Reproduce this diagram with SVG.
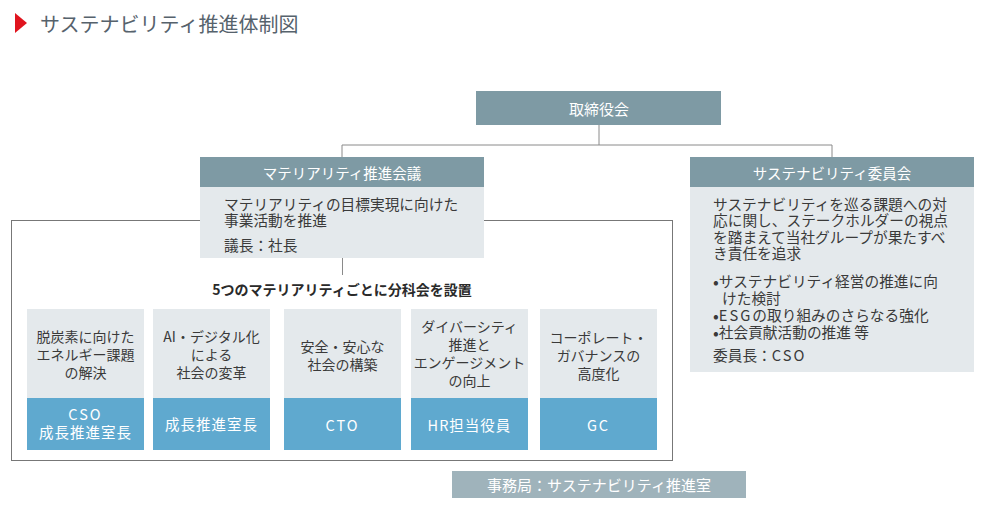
<svg xmlns="http://www.w3.org/2000/svg" width="982" height="507" viewBox="0 0 982 507">
<style>
text{font-family:"Noto Sans CJK JP","Noto Sans",sans-serif;}
.hd{fill:#7e9aa4;}
.bd{fill:#e4e9ec;}
.bl{fill:#5fa9cf;}
.sec{fill:#9fb3bb;}
.wt{fill:#ffffff;font-size:14.5px;text-anchor:middle;dominant-baseline:central;}
.dk{fill:#3a3a3a;font-size:14.7px;dominant-baseline:central;}
.sb{fill:#3a3a3a;font-size:14px;text-anchor:middle;dominant-baseline:central;}
.bw{fill:#ffffff;font-size:14.5px;text-anchor:middle;dominant-baseline:central;letter-spacing:1px;}
.ls{letter-spacing:2px;}
.bu{font-size:17px;}
.ln{stroke:#8a8a8a;stroke-width:1;fill:none;}
</style>
<g id="title">
<polygon points="15,13 27,23 15,33" fill="#e0141e"/>
<text x="40" y="23" style="font-size:20px;fill:#56626c;dominant-baseline:central;">サステナビリティ推進体制図</text>
</g>
<g id="connectors">
<line class="ln" x1="599" y1="125" x2="599" y2="145"/>
<line class="ln" x1="342" y1="145" x2="832" y2="145"/>
<line class="ln" x1="342" y1="145" x2="342" y2="157"/>
<line class="ln" x1="832" y1="145" x2="832" y2="157"/>
<line class="ln" x1="342.5" y1="258" x2="342.5" y2="275"/>
<rect x="11.5" y="220.5" width="661" height="240" fill="none" stroke="#777" stroke-width="1"/>
</g>
<g id="board">
<rect class="hd" x="476" y="91" width="245" height="34"/>
<text class="wt" x="599" y="108" style="font-size:15px">取締役会</text>
</g>
<g id="materiality">
<rect class="hd" x="200" y="157" width="284" height="30"/>
<rect class="bd" x="200" y="187" width="284" height="71"/>
<text class="wt" x="342" y="172">マテリアリティ推進会議</text>
<text class="dk" x="224" y="203">マテリアリティの目標実現に向けた</text>
<text class="dk" x="224" y="219">事業活動を推進</text>
<text class="dk" x="224" y="244">議長：社長</text>
</g>
<g id="sub-caption">
<text x="342" y="289" style="font-size:14px;font-weight:bold;fill:#2a2a2a;text-anchor:middle;dominant-baseline:central;">5つのマテリアリティごとに分科会を設置</text>
</g>
<g id="sub1">
<rect class="bd" x="27" y="309" width="117" height="89"/>
<rect class="bl" x="27" y="398" width="117" height="52"/>
<text class="sb" x="85.5" y="336">脱炭素に向けた</text>
<text class="sb" x="85.5" y="354">エネルギー課題</text>
<text class="sb" x="85.5" y="372">の解決</text>
<text class="bw" x="85.5" y="413" style="letter-spacing:2px">CSO</text>
<text class="bw" x="85.5" y="431">成長推進室長</text>
</g>
<g id="sub2">
<rect class="bd" x="153" y="309" width="117" height="89"/>
<rect class="bl" x="153" y="398" width="117" height="52"/>
<text class="sb" x="211.5" y="336">AI・デジタル化</text>
<text class="sb" x="211.5" y="354">による</text>
<text class="sb" x="211.5" y="372">社会の変革</text>
<text class="bw" x="211.5" y="423">成長推進室長</text>
</g>
<g id="sub3">
<rect class="bd" x="284" y="309" width="117" height="89"/>
<rect class="bl" x="284" y="398" width="117" height="52"/>
<text class="sb" x="342.5" y="346">安全・安心な</text>
<text class="sb" x="342.5" y="364">社会の構築</text>
<text class="bw" x="342.5" y="424" style="letter-spacing:2px">CTO</text>
</g>
<g id="sub4">
<rect class="bd" x="411" y="309" width="117" height="89"/>
<rect class="bl" x="411" y="398" width="117" height="52"/>
<text class="sb" x="469.5" y="326">ダイバーシティ</text>
<text class="sb" x="469.5" y="344">推進と</text>
<text class="sb" x="469.5" y="362">エンゲージメント</text>
<text class="sb" x="469.5" y="380">の向上</text>
<text class="bw" x="469.5" y="424">HR担当役員</text>
</g>
<g id="sub5">
<rect class="bd" x="540" y="309" width="117" height="89"/>
<rect class="bl" x="540" y="398" width="117" height="52"/>
<text class="sb" x="598.5" y="337">コーポレート・</text>
<text class="sb" x="598.5" y="355">ガバナンスの</text>
<text class="sb" x="598.5" y="373">高度化</text>
<text class="bw" x="598.5" y="424" style="letter-spacing:2px">GC</text>
</g>
<g id="sustainability">
<rect class="hd" x="690" y="157" width="284" height="30"/>
<rect class="bd" x="690" y="187" width="284" height="185"/>
<text class="wt" x="832" y="172">サステナビリティ委員会</text>
<text class="dk" x="713" y="203">サステナビリティを巡る課題への対</text>
<text class="dk" x="713" y="219">応に関し、ステークホルダーの視点</text>
<text class="dk" x="713" y="236">を踏まえて当社グループが果たすべ</text>
<text class="dk" x="713" y="252">き責任を追求</text>
<text class="dk" x="713" y="280"><tspan class="bu">•</tspan>サステナビリティ経営の推進に向</text>
<text class="dk" x="722" y="297">けた検討</text>
<text class="dk" x="713" y="314"><tspan class="bu">•</tspan><tspan class="ls">ESG</tspan>の取り組みのさらなる強化</text>
<text class="dk" x="713" y="331"><tspan class="bu">•</tspan>社会貢献活動の推進 等</text>
<text class="dk" x="713" y="354">委員長：<tspan class="ls">CSO</tspan></text>
</g>
<g id="secretariat">
<rect class="sec" x="452" y="471" width="294" height="27"/>
<text class="wt" x="599" y="484.5" style="font-size:15px">事務局：サステナビリティ推進室</text>
</g>
</svg>
